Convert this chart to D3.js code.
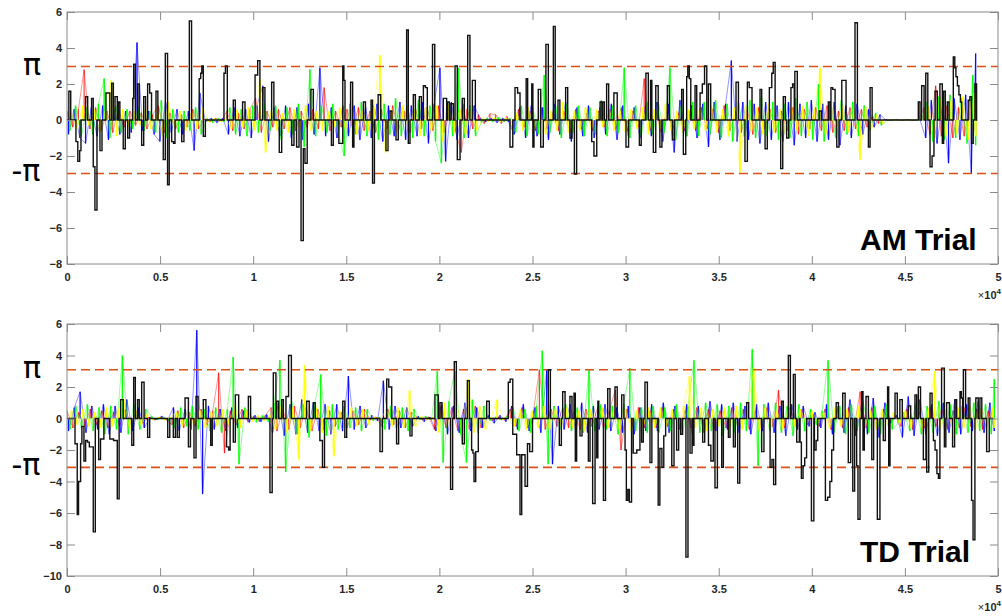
<!DOCTYPE html>
<html>
<head>
<meta charset="utf-8">
<script src="https://cdn.jsdelivr.net/npm/d3@7"></script>
<style>
  body { margin: 0; background: #fff; }
  svg text { font-family: "Liberation Sans", Arial, Helvetica, sans-serif; }
</style>
</head>
<body>
<div id="chart"></div>
<script>
// x in units of 1e4 samples
const xTicks = [0, 0.5, 1, 1.5, 2, 2.5, 3, 3.5, 4, 4.5, 5];
const amYTicks = [-8, -6, -4, -2, 0, 2, 4, 6];
const tdYTicks = [-10, -8, -6, -4, -2, 0, 2, 4, 6];
const amPi = 2.97;
const tdPi = 3.1;
const amEnd = 4.88;
const tdEnd = 4.98;

// AM trial, coloured channels (~one value per 300 samples)
const amRed = [0.5,-0.4,0.6,2.8,-0.5,0.7,-0.6,0.5,-0.7,0.6,-0.4,0.5,-0.3,0.4,-0.5,0.3,0.8,-0.7,0.4,-0.5,0.3,-0.4,0.6,-0.5,0.05,-0.1,0.1,-0.05,0.5,-0.6,0.4,-0.5,0.6,1.2,-0.7,0.5,-0.4,0.6,-0.5,0.7,-0.6,0.5,-0.4,0.6,-0.5,1.8,-0.6,0.5,-0.4,0.6,-0.5,0.7,-0.6,0.5,-0.7,0.6,-0.5,0.8,-0.6,0.5,-0.7,0.6,-0.5,0.7,-0.6,0.8,-0.7,0.5,-0.6,-1.8,0.6,-0.5,0.3,-0.2,0.35,0.3,-0.2,0.2,-0.5,0.6,-0.4,0.5,-0.6,0.7,-0.5,0.4,-0.6,0.5,-0.7,0.6,-0.5,0.4,-0.6,0.5,-0.4,0.6,-0.5,0.7,-0.6,0.5,-0.4,2.3,-0.6,0.5,-0.7,0.6,-0.5,0.4,-0.6,0.5,-0.6,0.7,-0.5,0.6,-0.7,0.8,-0.6,0.5,-0.7,0.6,-0.8,0.7,-0.5,0.6,-0.7,0.5,-0.6,0.7,-0.8,0.6,-0.5,0.7,-0.6,0.8,-0.7,0.5,-0.6,0.7,-0.5,0.6,-0.4,0.2,-0.2,0.01,-0.01,0.02,-0.01,0.01,-0.02,0.01,0.7,-0.8,1.9,-0.9,0.8,-1.0,0.7,-0.9,1.1,-0.8];
const amBlue = [-0.8,0.6,-1.0,-1.3,0.7,-0.9,0.8,-1.1,0.6,-0.8,0.5,-0.7,4.3,-0.6,0.5,-0.8,-1.2,1.0,-0.7,0.6,-0.8,0.5,-1.7,1.5,-0.1,0.1,-0.15,0.1,-0.8,0.7,-0.9,0.6,-1.0,0.8,1.9,-1.2,0.7,-0.9,0.8,-1.0,0.7,-1.1,0.9,-0.8,2.9,-0.9,0.7,-1.0,0.8,-0.9,0.8,-1.1,0.7,-1.0,0.9,-1.2,0.8,-0.9,1.0,-1.1,0.8,-0.9,1.0,-1.3,0.9,2.9,-2.3,1.0,-1.1,0.9,-1.0,0.8,0.1,-0.1,0.1,-0.15,0.1,-0.1,-0.8,0.7,-1.0,0.8,-0.9,0.7,-1.1,0.9,-0.8,1.0,-1.2,0.7,-0.9,0.8,-1.0,0.7,-0.8,0.9,-1.1,0.8,-0.9,0.7,-1.0,0.8,-0.9,1.0,-1.2,0.9,-1.8,1.1,-0.9,0.8,-1.0,0.9,-1.5,1.0,-1.1,0.9,3.3,-1.2,1.0,-1.1,0.9,-1.3,1.0,-1.1,0.8,-1.2,1.0,-1.4,0.9,-1.0,1.1,-1.2,0.9,-1.1,1.0,-1.4,0.8,-1.0,0.9,-0.8,0.6,-0.4,0.3,0.02,-0.03,0.02,-0.02,0.03,-0.02,0.02,-1.0,1.1,-1.3,0.9,-2.4,1.2,-1.1,1.4,-3.0,3.7];
const amGreen = [-0.6,0.8,-0.9,0.7,-0.8,0.9,2.3,-1.0,0.8,-0.7,0.6,-0.5,0.7,-0.6,0.5,-0.7,1.1,-1.0,0.6,-0.7,0.5,-0.6,0.7,-0.8,0.1,-0.15,0.1,-0.1,0.7,-0.8,0.6,-0.9,0.8,-0.7,0.9,-0.6,0.8,-1.1,0.7,-0.8,0.9,-1.5,2.8,-0.9,0.8,-0.7,0.9,-0.8,-2.0,0.9,-0.8,1.0,-0.9,0.8,-1.1,0.9,-0.8,1.2,-0.9,0.8,-1.0,1.1,-0.9,0.8,-1.2,-2.4,1.0,-0.9,2.9,-1.0,0.8,-0.9,-0.15,0.1,-0.1,0.15,-0.1,0.1,-0.7,0.8,-0.9,0.7,-0.8,2.5,-0.7,0.8,-1.0,0.9,-0.7,0.8,-0.9,0.7,-0.8,1.1,-0.9,0.8,-0.7,2.9,-1.0,0.8,-0.9,1.0,-0.8,0.9,-0.7,2.9,-1.1,0.8,-0.9,1.0,-0.9,1.0,-0.8,1.1,-1.0,0.9,-1.2,1.0,-0.9,1.1,-1.0,1.3,-0.9,1.0,-1.1,0.9,-1.0,1.2,-0.9,1.0,-1.1,2.0,-1.2,0.9,-1.0,1.1,-0.8,1.0,-0.9,0.8,-0.6,0.4,-0.3,-0.03,0.02,-0.02,0.03,-0.02,0.02,-0.03,1.0,-1.2,1.3,-1.1,1.4,-1.0,1.2,-1.3,2.5,-1.4];
const amYellow = [0.4,-0.5,0.8,-0.3,0.6,-0.7,0.5,2.2,-0.9,0.6,-0.4,0.5,-0.3,0.6,-0.5,0.3,-0.9,1.0,-0.4,0.5,-0.6,0.4,-0.5,0.7,-0.1,0.1,-0.1,0.1,-0.5,0.6,-0.4,0.7,-0.6,2.3,-1.8,0.5,-0.6,0.4,-0.7,0.6,-0.5,0.8,-0.6,0.5,-0.6,0.5,-0.4,0.7,-0.5,0.6,-0.8,0.5,-0.6,0.7,3.6,-1.8,0.6,-0.7,0.8,-0.5,0.6,-0.9,0.7,-0.6,0.8,-1.2,0.9,-0.7,0.6,-0.8,0.5,-0.6,0.1,-0.1,0.15,-0.1,0.1,-0.1,0.4,-0.6,0.7,-0.5,0.6,-0.8,0.5,-0.6,1.0,-0.7,0.5,-0.6,0.7,-0.5,0.6,-0.4,0.8,-0.6,0.5,-0.7,0.6,-0.5,0.7,-0.8,0.6,-0.5,0.9,-0.6,0.5,-0.7,0.6,-0.5,0.7,-0.6,0.8,-0.7,0.6,-0.9,0.7,-2.9,0.8,-0.6,0.7,-0.8,0.9,-0.7,0.6,-0.8,0.7,-0.6,0.8,-0.9,0.6,2.9,-0.8,0.7,-0.6,0.8,-0.7,0.6,-2.2,0.7,-0.5,0.3,-0.2,0.02,-0.02,0.01,-0.02,0.02,-0.01,0.02,0.8,-1.0,1.2,-0.9,1.1,-0.8,1.3,-1.1,1.5,-0.9];

// TD trial, coloured channels
const tdRed = [0.5,-0.6,0.4,-0.5,0.6,-0.4,0.5,-0.6,0.4,-0.5,0.6,-0.4,0.5,-0.3,0.1,-0.1,0.1,-0.1,-0.4,0.5,-0.6,0.4,-0.5,0.6,-0.4,0.5,2.9,-2.2,0.5,-0.4,0.6,-0.2,0.15,-0.2,0.2,0.7,-0.8,0.6,-0.7,0.8,-0.6,0.7,-0.8,0.6,-0.7,0.5,-0.5,0.4,-0.6,0.5,-0.4,0.6,-0.1,0.1,-0.5,0.6,-0.4,0.5,-0.6,0.4,0.1,-0.1,0.1,-0.7,0.8,-0.6,0.7,-0.8,0.6,-0.7,0.8,-0.6,0.1,-0.15,0.1,-0.1,0.6,-0.5,0.7,-0.6,0.5,3.1,-0.7,0.6,-0.5,0.7,-0.6,0.5,-0.7,0.6,-0.5,0.7,-0.6,0.5,1.8,-2.0,0.6,-0.5,0.7,-0.6,0.5,-0.6,0.7,-0.5,0.6,-0.7,0.5,-0.6,0.7,-0.5,0.6,-0.7,0.5,-0.6,0.7,-0.5,0.6,-0.7,0.5,-0.6,0.7,-0.5,1.8,-0.6,0.7,-0.5,0.6,-0.4,0.3,-0.5,0.6,-0.7,0.5,-0.6,0.7,-0.5,1.7,-0.6,0.7,-0.8,0.6,-0.3,0.2,-0.5,0.6,-0.7,0.5,-0.6,0.7,-0.5,0.6,-0.7,0.5,-0.6,0.7,-0.5,0.6,-0.7,0.5,-0.6];
const tdBlue = [-0.8,0.7,1.7,-0.9,0.8,-0.7,0.9,-1.0,0.8,-0.9,1.2,-0.8,0.7,-0.6,0.1,-0.1,0.15,-0.1,0.7,-0.8,0.6,-0.7,5.6,-4.8,0.8,-0.7,0.6,-0.8,0.7,-0.6,0.5,-0.25,0.2,-0.2,0.25,-0.9,1.0,-1.1,0.9,-1.0,1.2,-0.9,1.0,-0.8,0.9,-1.0,0.9,-0.8,2.7,-0.7,0.8,-0.6,0.2,-0.15,2.4,-0.7,0.8,-0.6,0.7,-0.5,0.15,-0.2,0.1,-0.8,0.9,-1.0,0.8,-0.9,1.0,-0.8,0.7,-0.6,0.2,-0.3,0.2,-0.2,0.8,-0.7,0.9,-0.8,0.7,-0.9,3.1,-2.9,0.8,-0.7,0.9,-0.8,1.0,-0.9,0.8,-0.7,0.9,-0.8,0.7,-0.9,0.8,-1.0,0.7,-0.8,0.9,-0.8,1.0,-0.9,0.8,-0.7,0.9,-1.0,0.8,-0.9,1.1,-0.8,0.9,-0.7,1.0,-0.9,0.8,-1.0,0.9,-0.8,1.0,-0.9,0.8,-1.1,0.9,-0.7,0.8,-0.5,0.4,-0.6,0.9,-1.0,0.8,-0.9,1.2,-1.1,0.9,-1.0,1.3,-1.2,1.0,-0.3,0.2,-1.2,1.4,-1.1,1.2,-1.0,0.9,-1.1,1.0,-0.9,1.2,-1.0,0.9,-0.8,1.1,-0.9,1.0,-0.8];
const tdGreen = [-0.7,0.8,-0.6,0.9,-0.8,0.7,-1.0,0.8,-0.7,4.0,-1.0,0.9,-0.7,0.6,0.15,-0.1,0.1,-0.15,-0.6,0.7,-0.5,0.8,-0.7,0.6,-0.8,0.7,-0.9,0.6,3.9,-2.9,0.7,0.2,-0.25,0.2,-0.2,1.0,3.7,-3.4,1.1,-1.0,0.9,-1.2,1.0,2.8,-1.1,0.9,-0.7,0.8,-0.6,0.7,-0.8,0.6,-0.15,0.1,-0.7,0.8,-0.6,0.7,-0.8,0.6,-0.1,0.15,-0.1,3.0,-2.8,1.1,3.0,-1.0,-2.8,1.2,-0.9,0.8,-0.15,0.1,-0.1,0.15,0.7,-0.8,0.6,-0.9,0.8,4.3,-2.9,0.8,-0.7,0.9,-0.8,0.7,-0.9,3.1,-0.8,0.9,-0.7,0.8,-1.0,0.9,3.2,-0.8,0.7,-0.9,0.8,-0.9,0.7,-0.8,0.9,-1.0,0.8,3.7,-0.9,1.0,-0.8,0.9,-1.1,0.8,-0.9,1.0,-0.8,4.4,-3.0,0.9,-0.8,1.0,-0.9,0.8,-1.1,0.9,-0.8,0.6,-0.4,0.5,3.7,-0.9,0.8,-1.0,0.9,-0.8,1.1,-0.9,0.8,-1.0,0.9,-0.7,-0.3,0.4,-0.8,0.9,-1.0,0.8,-0.9,1.1,-0.8,0.9,-1.0,0.8,-0.9,1.0,-0.8,0.9,-1.0,2.5];
const tdYellow = [0.5,-0.4,0.6,-0.5,0.4,-0.6,0.7,-0.5,0.6,1.2,-0.7,0.5,-0.4,0.3,-0.1,0.1,-0.1,0.1,0.4,-0.5,0.6,-0.4,0.5,-0.6,0.4,-0.5,0.6,-0.4,0.8,-0.6,0.5,-0.2,0.2,-0.15,0.2,-0.7,0.8,-0.9,0.7,-2.6,3.4,-0.8,0.7,-0.9,0.8,-2.4,0.5,-0.6,0.7,-0.5,0.6,-0.4,0.1,-0.1,0.6,-0.5,0.7,-0.6,1.8,-0.5,0.15,-0.1,0.1,-0.9,1.0,-0.8,1.2,-1.0,2.5,-0.9,0.8,-0.7,0.1,1.2,-0.1,0.1,-0.5,0.6,-0.7,0.5,-0.6,0.8,-0.7,0.6,-0.5,0.7,-0.6,0.5,-0.8,0.6,-0.5,0.7,-0.6,0.5,-0.7,0.6,-0.8,0.5,-0.6,0.7,-0.6,0.7,-0.5,0.6,-0.7,0.8,2.7,-0.6,0.7,-0.8,0.6,-0.5,0.7,-0.6,0.8,-0.7,0.6,3.2,-0.8,0.7,-0.6,0.5,-0.7,0.6,-0.5,0.6,-0.4,0.5,-0.3,0.4,-0.6,0.7,-0.5,0.6,-0.7,0.8,-0.6,0.5,-0.7,0.6,-0.5,0.4,-0.3,0.5,-0.6,0.7,-0.8,0.6,3.0,-0.7,0.6,-0.5,0.7,-0.6,0.8,-0.7,0.6,-0.5,0.7,-0.6];

// black step traces: [x (1e4 samples), level], level holds until next point
const amBlack = [[0,0],[0.01,1.6],[0.02,0],[0.048,-1.2],[0.058,-2.3],[0.068,-1.7],[0.075,0],[0.10,1.3],[0.111,0],[0.132,1.2],[0.141,-2.6],[0.15,-5.0],[0.161,0],[0.177,-1.7],[0.188,0],[0.209,1.5],[0.23,0],[0.24,2.05],[0.249,0],[0.258,1.3],[0.27,0],[0.276,1.0],[0.284,0],[0.302,-1.6],[0.313,0],[0.326,-1.0],[0.336,0],[0.353,1.2],[0.358,3.1],[0.367,0],[0.379,2.0],[0.388,0],[0.401,-1.4],[0.412,1.3],[0.422,0],[0.433,2.0],[0.444,1.5],[0.454,0],[0.478,1.6],[0.488,0],[0.517,-2.2],[0.528,3.7],[0.54,-3.6],[0.549,0],[0.562,-1.2],[0.572,-1.3],[0.58,0],[0.616,-1.2],[0.628,0],[0.657,5.5],[0.669,0],[0.71,2.3],[0.718,2.6],[0.724,3.0],[0.732,-0.9],[0.743,0],[0.843,2.6],[0.851,3.0],[0.861,0],[0.893,1.1],[0.904,0],[0.943,1.0],[0.956,0],[1.01,2.5],[1.024,3.3],[1.036,0],[1.051,1.8],[1.063,0],[1.099,2.1],[1.111,0],[1.14,-1.8],[1.153,0],[1.207,-1.4],[1.219,0],[1.233,-1.5],[1.246,0],[1.257,-6.7],[1.269,-1.6],[1.278,-2.4],[1.29,0],[1.31,1.7],[1.323,0],[1.42,-1.4],[1.43,0],[1.46,-1.3],[1.481,3.0],[1.487,2.2],[1.493,0],[1.523,2.1],[1.534,-1.5],[1.541,0],[1.592,1.0],[1.603,0],[1.633,1.1],[1.641,-3.5],[1.651,0],[1.671,1.4],[1.685,0],[1.713,-1.7],[1.724,0],[1.735,0.5],[1.745,0],[1.767,-1.1],[1.779,0],[1.824,5.0],[1.833,-1.3],[1.842,0],[1.86,1.4],[1.871,0],[1.892,1.3],[1.903,0],[1.914,1.9],[1.925,1.8],[1.935,0],[1.963,4.2],[1.975,0],[2.021,1.2],[2.039,0],[2.043,1.0],[2.053,0],[2.062,0.9],[2.075,0],[2.084,3.0],[2.096,-2.2],[2.111,0],[2.123,1.2],[2.134,0],[2.152,4.7],[2.164,0],[2.177,2.2],[2.193,0],[2.379,-1.5],[2.394,0],[2.406,1.8],[2.42,1.5],[2.433,0],[2.466,2.3],[2.474,0],[2.496,2.0],[2.502,-1.5],[2.508,0],[2.531,1.7],[2.544,-1.5],[2.558,0],[2.572,4.2],[2.585,0],[2.612,5.2],[2.622,0],[2.637,1.1],[2.647,0],[2.678,1.8],[2.689,0],[2.701,-1.0],[2.712,0],[2.725,-3.0],[2.737,0],[2.818,-1.2],[2.83,-2.0],[2.845,0],[2.863,1.0],[2.873,0],[2.877,1.0],[2.886,0],[2.898,2.0],[2.909,0],[2.937,1.5],[2.955,0],[3.002,-1.5],[3.016,0],[3.074,-1.4],[3.084,0],[3.109,2.6],[3.122,0],[3.134,2.2],[3.141,0],[3.149,-1.8],[3.162,1.9],[3.175,0],[3.184,-1.5],[3.195,0],[3.224,1.9],[3.235,0],[3.251,-1.1],[3.262,0],[3.301,1.7],[3.31,-1.9],[3.323,0],[3.328,2.4],[3.334,3.0],[3.342,2.3],[3.35,0],[3.373,1.9],[3.382,0],[3.4,1.5],[3.412,2.0],[3.424,3.0],[3.436,0],[3.445,2.0],[3.457,0],[3.593,2.1],[3.606,0],[3.641,-2.3],[3.654,2.1],[3.664,1.8],[3.679,0],[3.722,1.7],[3.731,0],[3.749,-1.6],[3.761,0],[3.772,1.8],[3.785,2.6],[3.793,3.2],[3.803,0],[3.833,-2.7],[3.844,0],[3.847,1.3],[3.858,0],[3.865,-1.0],[3.876,0],[3.888,1.8],[3.897,2.0],[3.906,0],[3.909,2.7],[3.922,0],[4.04,0.5],[4.051,0],[4.089,1.0],[4.098,0],[4.103,1.8],[4.112,1.7],[4.125,0],[4.134,-1.5],[4.146,0],[4.161,2.2],[4.184,0],[4.232,5.4],[4.245,0],[4.304,-1.5],[4.313,1.8],[4.324,0],[4.572,1.0],[4.581,0],[4.59,1.9],[4.603,0],[4.612,2.6],[4.623,0],[4.635,-2.6],[4.646,-2.0],[4.656,0],[4.662,1.6],[4.674,0],[4.688,2.0],[4.701,-1.3],[4.708,1.6],[4.717,0],[4.728,1.0],[4.737,0],[4.76,3.5],[4.768,2.9],[4.774,2.4],[4.782,1.9],[4.79,1.4],[4.798,1.0],[4.805,0],[4.84,1.1],[4.849,1.3],[4.858,-1.3],[4.867,0],[4.876,2.0],[4.885,0],[4.889,0]];

const tdBlack = [[0,0],[0.043,-1.6],[0.055,-6.1],[0.062,-4.0],[0.073,-1.6],[0.08,-0.5],[0.091,-2.7],[0.1,-1.4],[0.11,-1.5],[0.12,-1.8],[0.141,-7.2],[0.152,0],[0.17,-2.6],[0.18,-1.3],[0.198,0],[0.23,-1.3],[0.25,-1.4],[0.27,-5.1],[0.28,0],[0.288,1.2],[0.302,0],[0.348,-1.7],[0.358,2.6],[0.367,0],[0.379,1.2],[0.388,0],[0.401,2.3],[0.414,0],[0.433,-1.2],[0.444,0],[0.541,-1.2],[0.552,0],[0.571,-1.2],[0.582,0],[0.592,-1.2],[0.603,0],[0.634,1.3],[0.652,-1.8],[0.663,0],[0.682,-2.5],[0.693,1.4],[0.704,0],[0.732,1.2],[0.746,0],[0.772,-1.7],[0.78,0],[0.857,-1.8],[0.868,-2.0],[0.876,0],[0.893,-1.5],[0.904,1.5],[0.922,0],[0.974,1.4],[0.986,0],[1.09,-4.7],[1.102,0],[1.108,2.9],[1.122,0],[1.126,1.1],[1.137,0],[1.153,1.2],[1.162,0],[1.176,1.4],[1.19,4.0],[1.205,0],[1.287,1.1],[1.301,0],[1.323,1.0],[1.333,0],[1.358,-1.4],[1.372,-3.1],[1.383,0],[1.481,1.1],[1.492,-1.2],[1.502,0],[1.681,-2.1],[1.694,0],[1.717,2.5],[1.728,2.0],[1.744,0],[1.77,-1.6],[1.781,0],[1.842,-1.1],[1.853,0],[1.976,1.5],[1.994,0],[2.003,1.0],[2.014,0],[2.06,-4.5],[2.071,0],[2.08,3.6],[2.091,0],[2.123,-1.6],[2.134,0],[2.15,2.4],[2.161,0],[2.173,-2.0],[2.18,-2.2],[2.186,-4.0],[2.195,-2.1],[2.209,0],[2.254,1.1],[2.268,0],[2.37,2.3],[2.38,2.5],[2.394,-1.0],[2.415,-2.3],[2.433,-6.1],[2.442,-2.3],[2.46,-4.3],[2.473,-1.6],[2.485,-2.1],[2.5,0],[2.585,3.1],[2.596,0],[2.644,-1.7],[2.655,0],[2.662,1.7],[2.675,0],[2.701,1.4],[2.712,0],[2.723,1.6],[2.73,-2.7],[2.737,0],[2.755,-1.1],[2.766,0],[2.8,-2.7],[2.809,0],[2.823,-5.4],[2.836,0],[2.845,-2.5],[2.851,1.1],[2.856,0],[2.881,-5.2],[2.892,0],[2.904,1.9],[2.916,0],[2.943,2.0],[2.955,0],[2.979,1.5],[2.991,0],[2.997,-2.0],[3.004,-5.2],[3.012,-4.5],[3.02,-5.3],[3.032,0],[3.041,-2.2],[3.06,-2.0],[3.077,0],[3.086,-1.5],[3.095,0],[3.104,2.3],[3.117,0],[3.131,-2.8],[3.141,0],[3.175,-5.5],[3.184,-1.9],[3.195,-3.1],[3.205,-1.1],[3.215,0],[3.248,-3.0],[3.26,0],[3.274,-2.0],[3.285,0],[3.296,-1.0],[3.306,0],[3.324,-8.8],[3.335,0],[3.346,-2.2],[3.357,0],[3.36,-1.7],[3.367,0],[3.414,-1.5],[3.425,0],[3.445,-1.7],[3.458,-2.7],[3.471,0],[3.48,-4.4],[3.493,0],[3.516,-3.1],[3.525,0],[3.552,-1.2],[3.561,0],[3.579,-1.8],[3.589,0],[3.602,-4.1],[3.613,0],[3.65,1.0],[3.661,0],[3.731,-2.1],[3.743,0],[3.776,-3.1],[3.786,-2.6],[3.795,-4.2],[3.806,0],[3.838,1.1],[3.847,0],[3.874,4.0],[3.885,0],[3.901,2.8],[3.911,0],[3.919,-1.5],[3.933,0],[3.937,-1.5],[3.944,-3.8],[3.953,-3.0],[3.962,-2.5],[3.972,0],[3.998,-6.5],[4.011,0],[4.014,-2.0],[4.023,-1.4],[4.032,0],[4.073,-5.2],[4.085,-5.0],[4.097,-4.0],[4.107,-2.0],[4.117,0],[4.131,1.0],[4.143,0],[4.166,1.6],[4.179,0],[4.196,-2.8],[4.209,0],[4.22,-4.6],[4.23,0],[4.241,-3.0],[4.248,-6.4],[4.259,0],[4.268,1.7],[4.275,-2.0],[4.282,0],[4.291,1.4],[4.304,0],[4.322,-2.6],[4.332,0],[4.352,-6.4],[4.366,0],[4.384,-1.4],[4.395,0],[4.407,2.0],[4.413,-3.0],[4.42,0],[4.447,1.6],[4.459,0],[4.473,1.2],[4.486,0],[4.518,0.8],[4.531,0],[4.554,1.5],[4.563,0],[4.572,2.0],[4.584,0],[4.599,-2.6],[4.613,0],[4.617,-3.4],[4.628,0],[4.635,1.6],[4.646,0],[4.653,-1.4],[4.662,-2.0],[4.672,-3.5],[4.68,-3.8],[4.688,0],[4.697,3.2],[4.712,-1.8],[4.72,0],[4.724,1.0],[4.739,0],[4.756,-1.8],[4.767,0],[4.769,1.2],[4.778,0],[4.796,1.7],[4.803,1.3],[4.81,0],[4.814,3.1],[4.826,0],[4.84,1.3],[4.849,0],[4.858,-5.2],[4.866,-7.7],[4.876,0],[4.881,1.3],[4.894,0],[4.903,1.3],[4.913,0],[4.939,-2.1],[4.953,0],[4.975,0]];

const channelColors = ['#ff0000', '#0000ff', '#00ff00', '#ffff00'];
const stemWidths = [1.2, 1.3, 1.5, 1.9];

const svgW = 1002, svgH = 616;
const left = 67, plotW = 931, plotH = 252;

const svg = d3.select('#chart')
    .append('svg')
    .attr('width', svgW)
    .attr('height', svgH);

function drawPanel(cfg) {
    const g = svg.append('g').attr('transform', `translate(${left},${cfg.top})`);

    const x = d3.scaleLinear().domain([0, 5]).range([0, plotW]);
    const y = d3.scaleLinear().domain(cfg.yDomain).range([plotH, 0]);

    const clipId = 'clip-' + cfg.id;
    g.append('clipPath').attr('id', clipId)
        .append('rect').attr('width', plotW).attr('height', plotH);

    const plot = g.append('g').attr('clip-path', `url(#${clipId})`);

    // coloured channels: thin trace plus a stem per sample, channels
    // interleaved a quarter step apart
    cfg.channels.forEach((vals, k) => {
        const step = cfg.end / (vals.length - 1);
        const shift = step * k / 4;
        const px = (i) => x(Math.min(cfg.end, i * step + shift));
        plot.append('path')
            .datum(vals)
            .attr('fill', 'none')
            .attr('stroke', channelColors[k])
            .attr('stroke-width', 0.6)
            .attr('stroke-opacity', 0.7)
            .attr('d', d3.line().x((d, i) => px(i)).y((d) => y(d)));
        plot.append('g')
            .selectAll('line')
            .data(vals)
            .join('line')
            .attr('x1', (d, i) => px(i))
            .attr('x2', (d, i) => px(i))
            .attr('y1', y(0))
            .attr('y2', (d) => y(d))
            .attr('stroke', channelColors[k])
            .attr('stroke-width', stemWidths[k])
            .attr('stroke-opacity', k === 0 ? 0.75 : 0.95);
    });

    // +/- pi
    [cfg.pi, -cfg.pi].forEach((v) => {
        plot.append('line')
            .attr('x1', 0).attr('x2', plotW)
            .attr('y1', y(v)).attr('y2', y(v))
            .attr('stroke', '#d95319')
            .attr('stroke-width', 1.6)
            .attr('stroke-dasharray', '9,5');
    });

    const stepLine = d3.line()
        .curve(d3.curveStepAfter)
        .x((d) => x(d[0]))
        .y((d) => y(d[1]));
    plot.append('path')
        .datum(cfg.black)
        .attr('fill', 'none')
        .attr('stroke', '#111')
        .attr('stroke-width', 1.4)
        .attr('d', stepLine);

    // axes, ticks pointing inward
    const styleAxis = (sel) => {
        sel.select('.domain').remove();
        sel.selectAll('line').attr('stroke', '#8a8a8a');
        sel.selectAll('text')
            .attr('fill', '#262626')
            .style('font-size', '11px')
            .style('font-weight', 'bold');
    };

    g.append('g')
        .attr('transform', `translate(0,${plotH})`)
        .call(d3.axisBottom(x).tickValues(xTicks).tickSize(-8).tickPadding(9).tickFormat(d3.format('')))
        .call(styleAxis);
    g.append('g')
        .call(d3.axisTop(x).tickValues(xTicks).tickSize(-8).tickFormat(''))
        .call(styleAxis);
    g.append('g')
        .call(d3.axisLeft(y).tickValues(cfg.yTicks).tickSize(-8).tickPadding(5))
        .call(styleAxis);
    g.append('g')
        .attr('transform', `translate(${plotW},0)`)
        .call(d3.axisRight(y).tickValues(cfg.yTicks).tickSize(-8).tickFormat(''))
        .call(styleAxis);

    g.append('rect')
        .attr('width', plotW).attr('height', plotH)
        .attr('fill', 'none')
        .attr('stroke', '#8a8a8a')
        .attr('stroke-width', 1);

    // exponent label
    const ex = g.append('text')
        .attr('x', plotW + 3)
        .attr('y', plotH + 35)
        .attr('text-anchor', 'end')
        .attr('fill', '#262626')
        .style('font-size', '11px');
    ex.append('tspan').text('\u00d7');
    ex.append('tspan').style('font-weight', 'bold').text('10');
    ex.append('tspan').style('font-weight', 'bold').style('font-size', '8px')
        .attr('dy', -5).text('4');

    // pi labels
    svg.append('text')
        .attr('x', 32).attr('y', cfg.top + y(cfg.pi) + 8)
        .attr('text-anchor', 'middle')
        .style('font-family', '"DejaVu Sans", sans-serif')
        .style('font-size', '30px')
        .text('\u03c0');
    svg.append('text')
        .attr('x', 26).attr('y', cfg.top + y(-cfg.pi) + 8)
        .attr('text-anchor', 'middle')
        .style('font-family', '"DejaVu Sans", sans-serif')
        .style('font-size', '30px')
        .text('-\u03c0');

    // trial title
    g.append('text')
        .attr('x', 793).attr('y', cfg.titleY)
        .style('font-size', '30px')
        .style('font-weight', 'bold')
        .text(cfg.title);
}

drawPanel({
    id: 'am', top: 12, yDomain: [-8, 6], yTicks: amYTicks, pi: amPi, end: amEnd,
    channels: [amRed, amBlue, amGreen, amYellow], black: amBlack,
    title: 'AM Trial', titleY: 238
});

drawPanel({
    id: 'td', top: 324, yDomain: [-10, 6], yTicks: tdYTicks, pi: tdPi, end: tdEnd,
    channels: [tdRed, tdBlue, tdGreen, tdYellow], black: tdBlack,
    title: 'TD Trial', titleY: 238
});
</script>
</body>
</html>
